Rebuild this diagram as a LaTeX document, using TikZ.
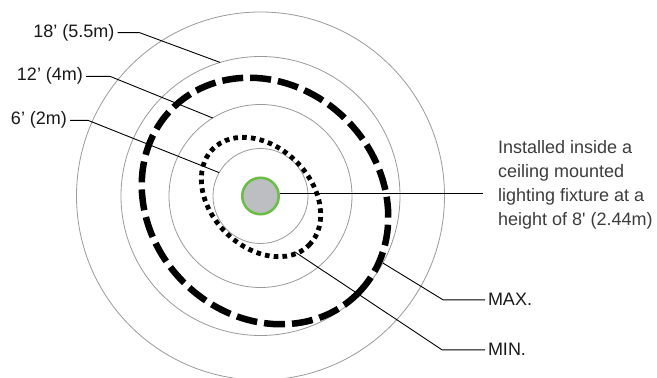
\documentclass[tikz,border=0pt]{standalone}
\usepackage{fontspec}
\setmainfont{Liberation Sans}
\usetikzlibrary{calc}

\definecolor{ringgray}{HTML}{9A9A9A}
\definecolor{fixgray}{HTML}{BDBEC2}
\definecolor{fixgreen}{HTML}{6ABD45}
\definecolor{notegray}{HTML}{3C3C3C}

\tikzset{
	ring/.style={draw=ringgray, line width=0.8pt},
	lead/.style={draw=black, line width=0.9pt},
	lbl/.style={font=\fontsize{18}{22}\selectfont, text=black!90, inner sep=3pt, outer sep=0pt}
}

\begin{document}
\begin{tikzpicture}[x=1pt,y=1pt]
	\useasboundingbox (0,0) rectangle (657,378);
	\coordinate (C) at (260.5,182);
	\coordinate (D) at (265,177);
	\coordinate (E) at (261,181);
	
	% coverage rings
	\foreach \r in {47.5,91.5,139.5,184}
	{\draw[ring] (C) circle (\r);}
	
	% max and min zones
	\draw[line width=6.5pt, dash pattern=on 21pt off 7pt, rotate around={-45:(D)}] (D) ellipse (131 and 115);
	\draw[line width=4.8pt, dash pattern=on 4.6pt off 4.2pt, rotate around={-45:(E)}] (E) ellipse (68 and 50);
	
	\node[circle, draw=fixgreen, fill=fixgray, line width=2.5pt, minimum size=36.5pt, inner sep=0pt] (fix) at (C) {};
	
	% distance labels
	\node[lbl, anchor=base east] (l18) at (117.5,340.7) {18' (5.5m)};
	\node[lbl, anchor=base east] (l12) at (86,297) {12' (4m)};
	\node[lbl, anchor=base east] (l6) at (70,253) {6' (2m)};
	
	\coordinate (p18) at ($(C)+(106.8:139.5)$);
	\coordinate (p12) at ($(C)+(121.5:91.5)$);
	\coordinate (p6) at ($(C)+(150.5:47.5)$);
	
	\foreach \n/\d in {18/22,12/24,6/18}
	{\draw[lead] (l\n.east) -- ++(\d,0) -- (p\n);}
	
	% fixture note
	\node[font=\fontsize{18}{23.9}\selectfont, text=notegray, align=left, anchor=north west, inner sep=0pt] (note) at (498,237.6) {Installed inside a\\ceiling mounted\\lighting fixture at a\\height of 8\textquotesingle{} (2.44m)};
	\draw[lead] (fix.8) -- ($(fix.8 -| note.west)+(-15,0)$);
	
	% max / min
	\node[lbl, anchor=base west] (max) at (485,72) {MAX.};
	\node[lbl, anchor=base west] (min) at (485,22) {MIN.};
	\coordinate (pmax) at ($(C)+(-28.7:139.5)$);
	\coordinate (pmin) at ($(E)+(34,-55)$);
	\draw[lead] (pmax) -- ($(max.west)+(-42,0)$) -- (max.west);
	\draw[lead] (pmin) -- ($(min.west)+(-43,0)$) -- (min.west);
	
\end{tikzpicture}
\end{document}
